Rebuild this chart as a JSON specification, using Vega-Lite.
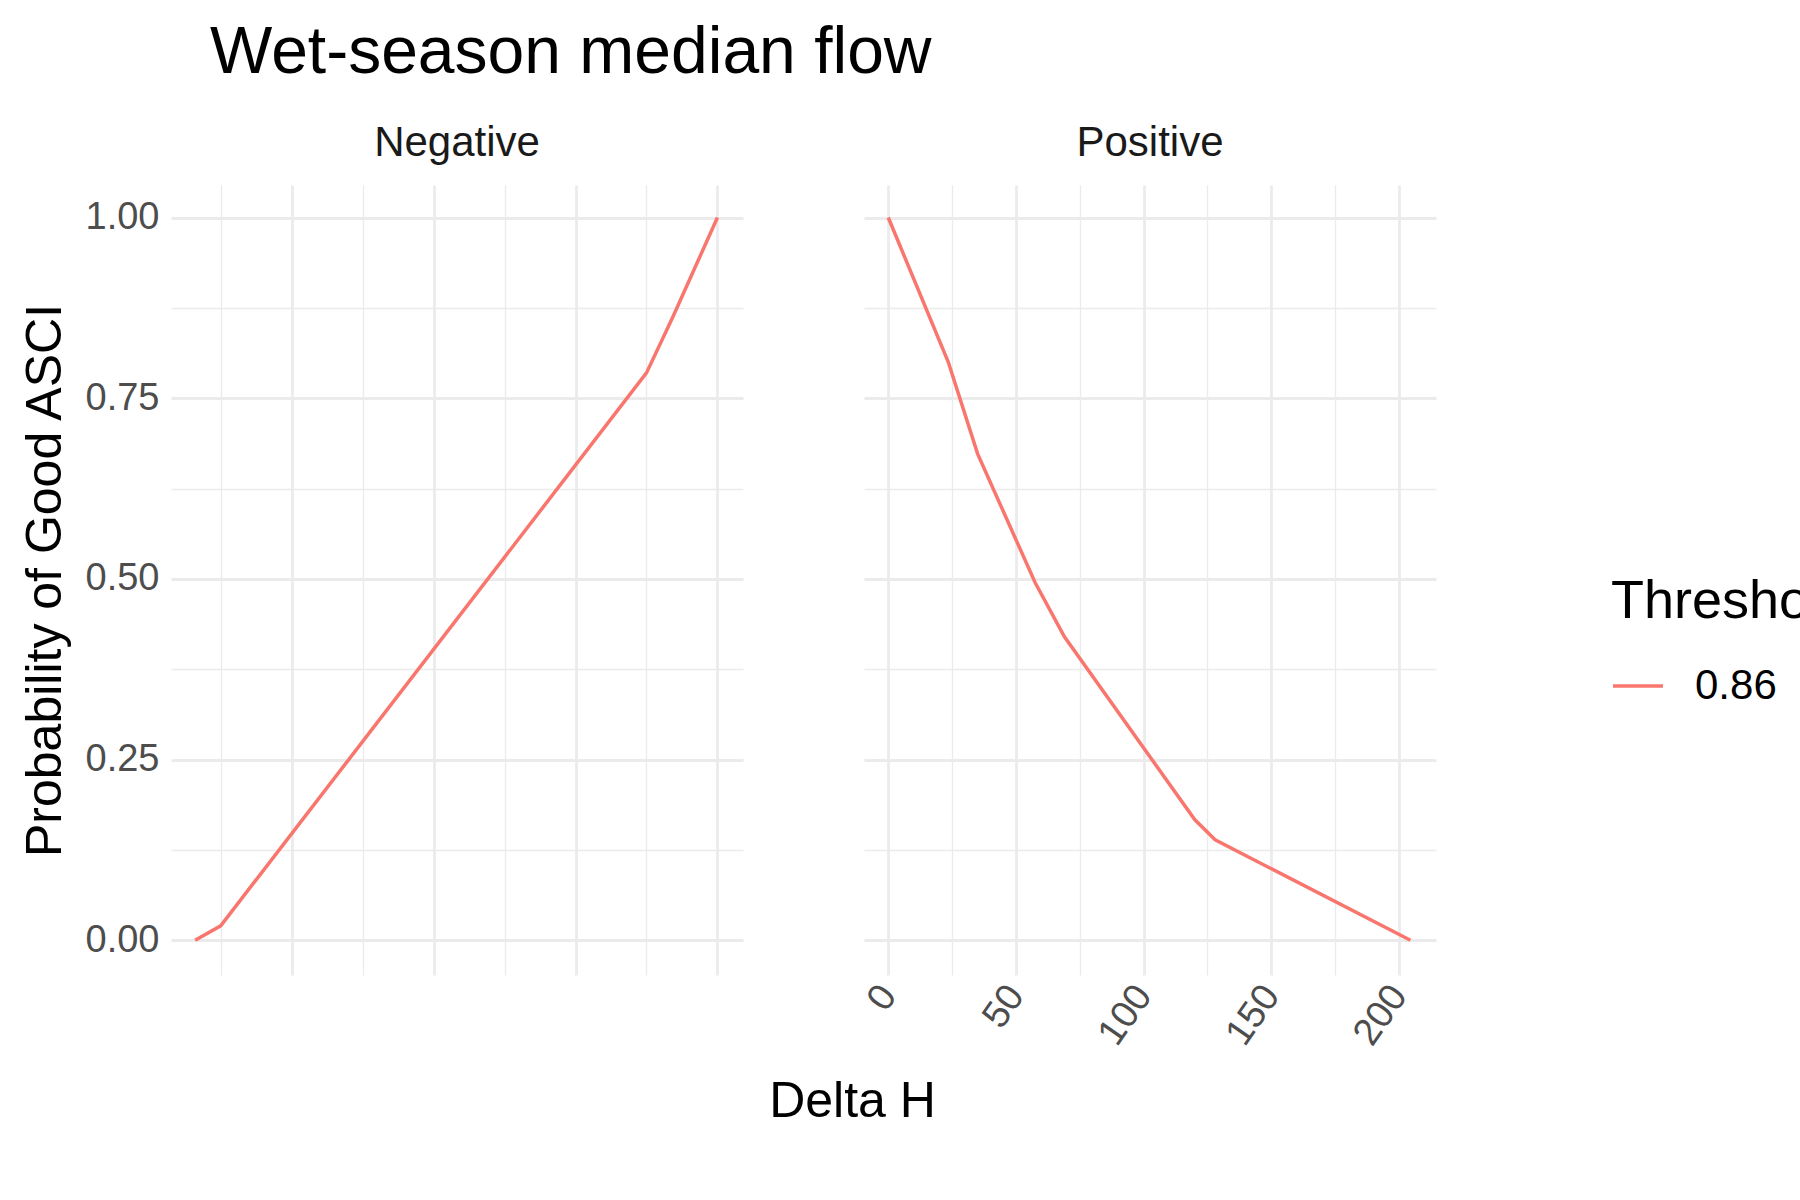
{
  "$schema": "https://vega.github.io/schema/vega-lite/v6.json",
  "background": "white",
  "padding": {"left": 20, "top": 20, "right": 30, "bottom": 20},
  "title": {"text": "Wet-season median flow", "fontSize": 66, "font": "Liberation Sans", "fontWeight": "normal", "anchor": "start", "offset": 35, "color": "black", "dx": 190},
  "config": {
    "font": "Liberation Sans",
    "view": {"stroke": null},
    "axis": {"domain": false, "ticks": false, "gridColor": "#ebebeb", "labelColor": "#4d4d4d", "labelFontSize": 38, "titleFontSize": 50, "titleFontWeight": "normal", "titleColor": "black"},
    "legend": {"titleFontSize": 54, "titleFontWeight": "normal", "labelFontSize": 42, "titleColor": "black", "labelColor": "black", "symbolType": "stroke", "symbolSize": 2500, "symbolStrokeWidth": 3.5, "titlePadding": 30, "titleLimit": 0, "labelLimit": 0, "labelOffset": 30}
  },
  "data": {"values": [
    {"panel": "Negative", "x": -368, "y": 0.0, "Thresholds": "0.86"},
    {"panel": "Negative", "x": -350, "y": 0.02, "Thresholds": "0.86"},
    {"panel": "Negative", "x": -50, "y": 0.785, "Thresholds": "0.86"},
    {"panel": "Negative", "x": -32, "y": 0.86, "Thresholds": "0.86"},
    {"panel": "Negative", "x": 0, "y": 1.0, "Thresholds": "0.86"},
    {"panel": "Positive", "x": 0, "y": 1.0, "Thresholds": "0.86"},
    {"panel": "Positive", "x": 23.5, "y": 0.8, "Thresholds": "0.86"},
    {"panel": "Positive", "x": 35, "y": 0.673, "Thresholds": "0.86"},
    {"panel": "Positive", "x": 57.5, "y": 0.495, "Thresholds": "0.86"},
    {"panel": "Positive", "x": 69, "y": 0.42, "Thresholds": "0.86"},
    {"panel": "Positive", "x": 120, "y": 0.167, "Thresholds": "0.86"},
    {"panel": "Positive", "x": 128, "y": 0.139, "Thresholds": "0.86"},
    {"panel": "Positive", "x": 204.5, "y": 0.0, "Thresholds": "0.86"}
  ]},
  "spacing": 25,
  "hconcat": [
    {
      "width": 572, "height": 790,
      "title": {"text": "Negative", "fontSize": 42, "fontWeight": "normal", "color": "#1a1a1a", "offset": 20},
      "transform": [{"filter": "datum.panel === 'Negative'"}],
      "mark": {"type": "line", "strokeWidth": 3.5, "clip": true},
      "encoding": {
        "x": {"field": "x", "type": "quantitative", "scale": {"domain": [-385, 18], "nice": false, "zero": false},
          "axis": {"title": null, "values": [-350, -300, -250, -200, -150, -100, -50, 0], "labelExpr": "datum.value % 100 === 0 ? '' + datum.value : ''", "labelAngle": -55, "labelAlign": "right", "labelBaseline": "middle", "labelPadding": 14,
            "gridWidth": {"condition": {"test": "datum.value % 100 !== 0", "value": 1.3}, "value": 2.8}}},
        "y": {"field": "y", "type": "quantitative", "scale": {"domain": [-0.048, 1.045], "nice": false},
          "axis": {"title": "Probability of Good ASCI", "values": [0, 0.125, 0.25, 0.375, 0.5, 0.625, 0.75, 0.875, 1], "labelExpr": "(datum.value * 4) % 1 === 0 ? format(datum.value, '.2f') : ''", "labelPadding": 12, "titlePadding": 15,
            "gridWidth": {"condition": {"test": "(datum.value * 4) % 1 !== 0", "value": 1.3}, "value": 2.8}}},
        "color": {"field": "Thresholds", "type": "nominal", "scale": {"range": ["#F8766D"]},
          "legend": {"title": "Thresholds", "orient": "none", "legendX": 1440, "legendY": 390}}
      }
    },
    {
      "width": 572, "height": 790,
      "title": {"text": "Positive", "fontSize": 42, "fontWeight": "normal", "color": "#1a1a1a", "offset": 20},
      "transform": [{"filter": "datum.panel === 'Positive'"}],
      "mark": {"type": "line", "strokeWidth": 3.5, "clip": true},
      "encoding": {
        "x": {"field": "x", "type": "quantitative", "scale": {"domain": [-9.5, 214.5], "nice": false, "zero": false},
          "axis": {"title": "Delta H", "titleX": -12, "titlePadding": 25, "values": [0, 25, 50, 75, 100, 125, 150, 175, 200], "labelExpr": "datum.value % 50 === 0 ? datum.label : ''", "labelAngle": -55, "labelAlign": "right", "labelBaseline": "middle", "labelPadding": 14,
            "gridWidth": {"condition": {"test": "datum.value % 50 !== 0", "value": 1.3}, "value": 2.8}}},
        "y": {"field": "y", "type": "quantitative", "scale": {"domain": [-0.048, 1.045], "nice": false},
          "axis": {"title": null, "labels": false, "values": [0, 0.125, 0.25, 0.375, 0.5, 0.625, 0.75, 0.875, 1],
            "gridWidth": {"condition": {"test": "(datum.value * 4) % 1 !== 0", "value": 1.3}, "value": 2.8}}},
        "color": {"field": "Thresholds", "type": "nominal", "scale": {"range": ["#F8766D"]},
          "legend": {"title": "Thresholds", "orient": "none", "legendX": 1440, "legendY": 390}}
      }
    }
  ]
}
